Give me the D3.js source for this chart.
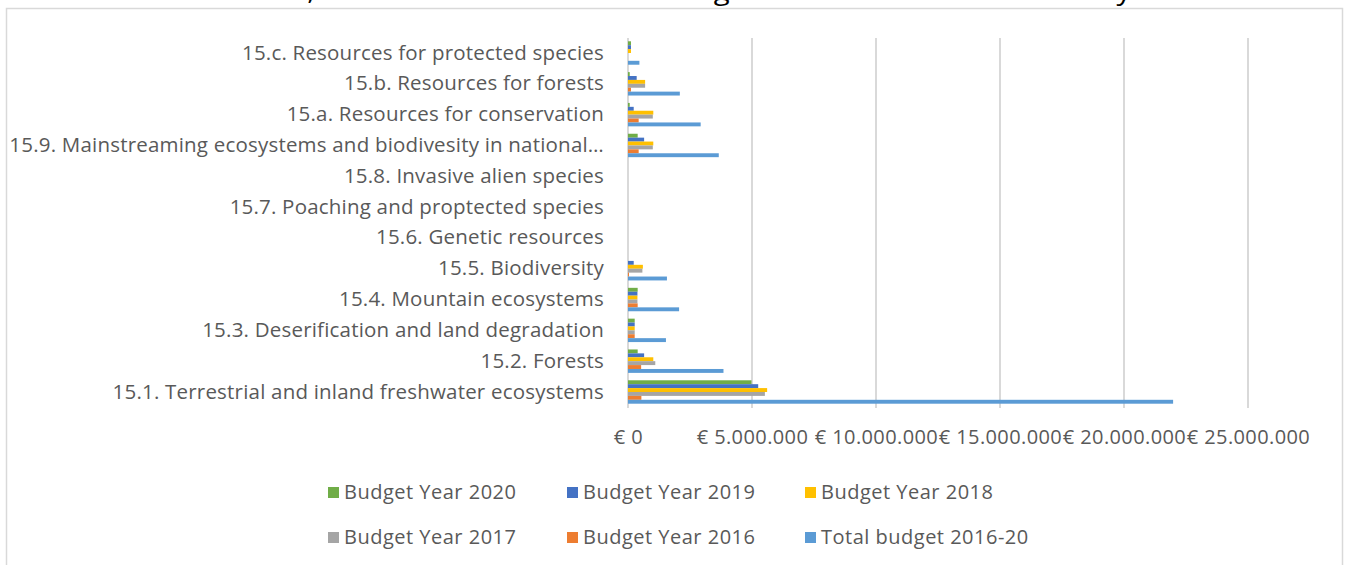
<!DOCTYPE html>
<html>
<head>
<meta charset="utf-8">
<title>SDG 15 budget</title>
<script src="https://cdn.jsdelivr.net/npm/d3@7"></script>
<style>
  body { margin: 0; background: #fff; }
  svg text { font-family: "Open Sans", sans-serif; fill: #595959; }
</style>
</head>
<body>
<div id="chart"></div>
<script>
	// targets, top to bottom as drawn
	var targets = [
		"15.c. Resources for protected species",
		"15.b. Resources for forests",
		"15.a. Resources for conservation",
		"15.9. Mainstreaming ecosystems and biodivesity in national\u2026",
		"15.8. Invasive alien species",
		"15.7. Poaching and proptected species",
		"15.6. Genetic resources",
		"15.5. Biodiversity",
		"15.4. Mountain ecosystems",
		"15.3. Deserification and land degradation",
		"15.2. Forests",
		"15.1. Terrestrial and inland freshwater ecosystems"
	];

	// series in drawing order inside a group (top -> bottom)
	var seriesNames = ["Budget Year 2020", "Budget Year 2019", "Budget Year 2018",
		"Budget Year 2017", "Budget Year 2016", "Total budget 2016-20"];
	var seriesColors = ["#70AD47", "#4472C4", "#FFC000", "#A5A5A5", "#ED7D31", "#5B9BD5"];

	// values in euro, same order as targets
	var budget2020 = [120000, 70000, 70000, 390000, 0, 0, 0, 0, 390000, 270000, 390000, 4980000];
	var budget2019 = [120000, 350000, 230000, 650000, 0, 0, 0, 230000, 380000, 270000, 650000, 5250000];
	var budget2018 = [120000, 690000, 1020000, 1020000, 0, 0, 0, 600000, 380000, 270000, 1020000, 5610000];
	var budget2017 = [0, 690000, 1000000, 1000000, 0, 0, 0, 580000, 380000, 270000, 1100000, 5520000];
	var budget2016 = [0, 120000, 430000, 430000, 0, 0, 0, 40000, 390000, 270000, 530000, 540000];
	var total = [460000, 2090000, 2930000, 3660000, 0, 0, 0, 1570000, 2060000, 1530000, 3850000, 21980000];

	var xTicks = [0, 5000000, 10000000, 15000000, 20000000, 25000000];
	var xTickLabels = ["\u20ac 0", "\u20ac 5.000.000", "\u20ac 10.000.000", "\u20ac 15.000.000", "\u20ac 20.000.000", "\u20ac 25.000.000"];

	var seriesValues = [budget2020, budget2019, budget2018, budget2017, budget2016, total];

	var W = 1362, H = 565;
	var svg = d3.select("#chart").append("svg")
		.attr("width", W)
		.attr("height", H);

	// cut-off line of text above the chart frame
	svg.append("text")
		.attr("x", 0)
		.attr("y", 0)
		.attr("font-size", "26px")
		.attr("textLength", 1192)
		.attr("lengthAdjust", "spacingAndGlyphs")
		.style("fill", "#000")
		.text("combat desertification, and halt and reverse land degradation and halt biodiversity loss");

	// chart frame
	svg.append("rect")
		.attr("x", 6.5)
		.attr("y", 8.5)
		.attr("width", 1336)
		.attr("height", 600)
		.attr("fill", "none")
		.attr("stroke", "#D9D9D9")
		.attr("stroke-width", 1.5);

	var x = d3.scaleLinear().domain([0, 25000000]).range([628, 1248]);
	var y = d3.scaleBand().domain(targets).range([37.6, 407.4]).paddingInner(0.24).paddingOuter(0.12);
	var ySub = d3.scaleBand().domain(d3.range(seriesNames.length)).range([0, y.bandwidth()]);

	// gridlines
	svg.append("g")
		.selectAll("line")
		.data(xTicks)
		.enter()
		.append("line")
		.attr("x1", function(d) { return x(d); })
		.attr("x2", function(d) { return x(d); })
		.attr("y1", 38)
		.attr("y2", 408)
		.attr("stroke", "#D9D9D9")
		.attr("stroke-width", 2);

	// bars
	var groups = svg.append("g")
		.selectAll("g")
		.data(targets)
		.enter()
		.append("g")
		.attr("transform", function(d) { return "translate(0," + y(d) + ")"; });

	groups.selectAll("rect")
		.data(function(d, i) {
			return seriesValues.map(function(vals, s) { return { s: s, v: vals[i] }; });
		})
		.enter()
		.append("rect")
		.attr("x", x(0))
		.attr("y", function(d) { return ySub(d.s); })
		.attr("width", function(d) { return x(d.v) - x(0); })
		.attr("height", ySub.bandwidth())
		.attr("fill", function(d) { return seriesColors[d.s]; });

	// category axis
	var yAxis = svg.append("g")
		.attr("transform", "translate(628,0)")
		.call(d3.axisLeft(y).tickSize(0).tickPadding(24));
	yAxis.select(".domain").remove();
	yAxis.selectAll("text")
		.attr("font-size", "20.5px")
		.style("letter-spacing", "0.2px")
		.style("fill", "#595959")
		.style("font-family", "'Open Sans', sans-serif");

	// value axis
	var xAxis = svg.append("g")
		.attr("transform", "translate(0,408)")
		.call(d3.axisBottom(x).tickValues(xTicks)
			.tickFormat(function(d, i) { return xTickLabels[i]; })
			.tickSize(0).tickPadding(22));
	xAxis.select(".domain").remove();
	xAxis.selectAll("text")
		.attr("font-size", "20px")
		.style("letter-spacing", "0.4px")
		.style("fill", "#595959")
		.style("font-family", "'Open Sans', sans-serif");

	// legend
	var legendX = [328, 567, 805];
	var legendY = [492, 537];
	var legend = svg.append("g")
		.selectAll("g")
		.data(seriesNames)
		.enter()
		.append("g")
		.attr("transform", function(d, i) {
			return "translate(" + legendX[i % 3] + "," + legendY[Math.floor(i / 3)] + ")";
		});

	legend.append("rect")
		.attr("x", 0)
		.attr("y", -5)
		.attr("width", 11)
		.attr("height", 11)
		.attr("fill", function(d, i) { return seriesColors[i]; });

	legend.append("text")
		.attr("x", 16)
		.attr("y", 0)
		.attr("dy", "0.35em")
		.attr("font-size", "20px")
		.style("letter-spacing", "0.5px")
		.text(function(d) { return d; });
</script>
</body>
</html>
